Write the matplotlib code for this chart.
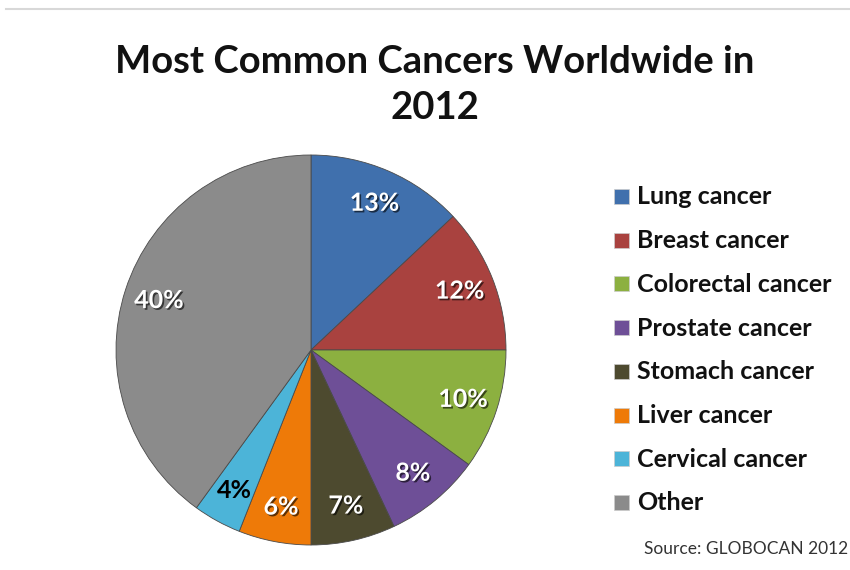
import matplotlib
matplotlib.use("Agg")
import matplotlib.pyplot as plt
import matplotlib.patheffects as pe
from matplotlib.patches import Rectangle
from matplotlib.lines import Line2D

categories = ["Lung cancer", "Breast cancer", "Colorectal cancer", "Prostate cancer",
              "Stomach cancer", "Liver cancer", "Cervical cancer", "Other"]
shares = [13, 12, 10, 8, 7, 6, 4, 40]
colors = ["#4070ad", "#a9423f", "#8cb040", "#6e4f97", "#4d4a2f", "#ee7a08", "#4cb4d8", "#8b8b8b"]
label_colors = ["white", "white", "white", "white", "white", "white", "black", "white"]

plt.rcParams["font.family"] = ["Lato", "DejaVu Sans"]

fig = plt.figure(figsize=(8.5, 5.7), dpi=100)
fig.patch.set_facecolor("white")

# thin grey rule along the top
fig.add_artist(Line2D([6 / 850, 1], [1 - 9 / 570, 1 - 9 / 570], color="#d8d8d8", lw=1.5))

ax = fig.add_axes([116 / 850, 25 / 570, 390 / 850, 390 / 570])
wedges, texts, autotexts = ax.pie(
    shares, colors=colors, startangle=90, counterclock=False,
    autopct="%d%%", pctdistance=0.82,
    wedgeprops=dict(edgecolor="#4a4a4a", linewidth=0.6),
    textprops=dict(fontsize=18, fontweight="bold"))
for t, c in zip(autotexts, label_colors):
    t.set_color(c)
    if c == "white":
        t.set_path_effects([pe.SimplePatchShadow(offset=(1.2, -1.2), shadow_rgbFace="black", alpha=0.6),
                            pe.Normal()])
ax.set_xlim(-1.0, 1.0)
ax.set_ylim(-1.0, 1.0)
ax.set_aspect("equal")

fig.text(435 / 850, 1 - 62 / 570, "Most Common Cancers Worldwide in", ha="center", va="center",
         fontsize=27.5, fontweight="bold", color="#111111")
fig.text(435 / 850, 1 - 108 / 570, "2012", ha="center", va="center",
         fontsize=27.5, fontweight="bold", color="#111111")

# legend
y0, step = 197, 43.7
for i, (name, col) in enumerate(zip(categories, colors)):
    y = y0 + i * step
    fig.add_artist(Rectangle((614 / 850, 1 - (y + 7) / 570), 15 / 850, 15 / 570,
                             facecolor=col, edgecolor="#cccccc", linewidth=0.5,
                             transform=fig.transFigure))
    fig.text(637 / 850, 1 - y / 570, name, ha="left", va="center",
             fontsize=18, fontweight="bold", color="#111111")

fig.text(848 / 850, 1 - 549 / 570, "Source: GLOBOCAN 2012", ha="right", va="center",
         fontsize=12.5, color="#333333")

fig.savefig("out.png", dpi=100)
